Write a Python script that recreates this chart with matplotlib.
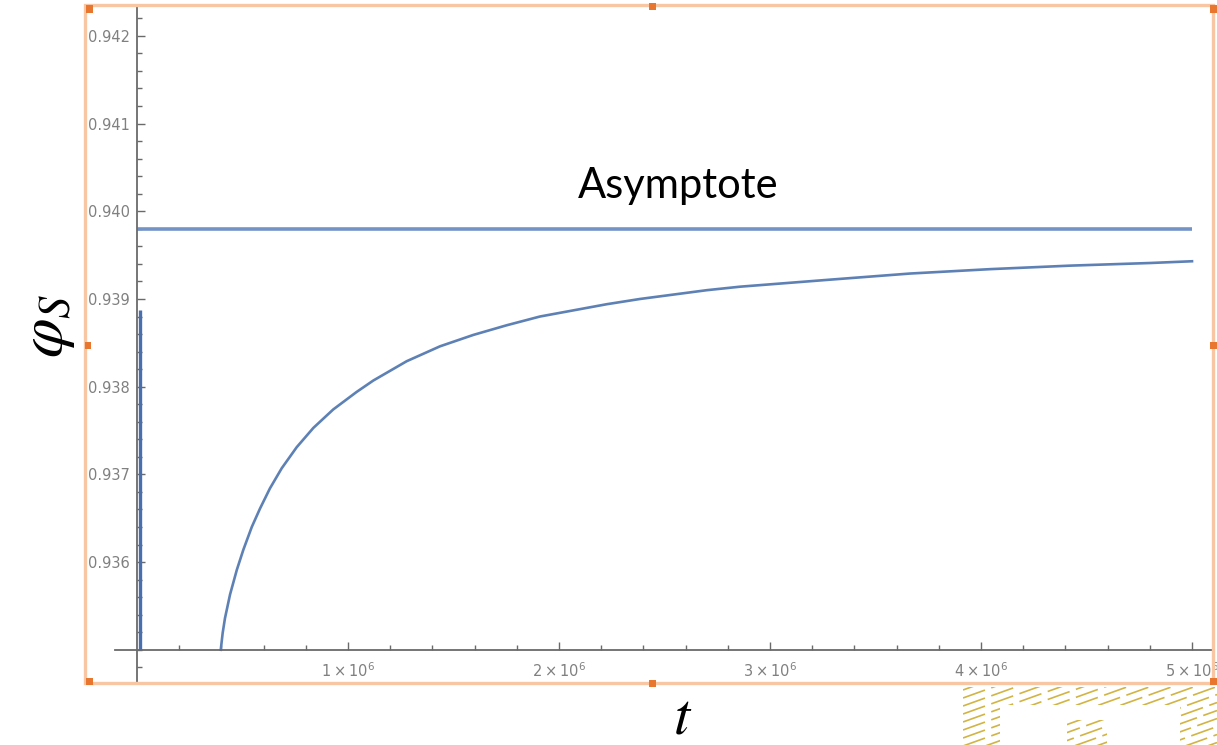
"""
Solid fraction phi_S relaxing towards its long-time asymptote.
"""

import matplotlib.pyplot as plt
import numpy as np
from matplotlib.lines import Line2D
from matplotlib.patches import Rectangle

OUT_FILE = "out.png"
W, H, DPI = 1217, 745, 100

# phi_S(t), t in units of 1e6
TIME = np.array([
    0.397, 0.406, 0.417, 0.441, 0.473, 0.504, 0.544, 0.583, 0.630, 0.686,
    0.757, 0.836, 0.930, 1.041, 1.120, 1.278, 1.436, 1.594, 1.752, 1.910,
    2.068, 2.226, 2.384, 2.542, 2.700, 2.858, 3.284, 3.664, 4.043, 4.422,
    4.801, 5.000,
]) * 1e6
PHI_S = np.array([
    0.93500, 0.93519, 0.93536, 0.93563, 0.93591, 0.93614, 0.93640, 0.93661, 0.93684, 0.93707,
    0.93731, 0.93753, 0.93774, 0.93794, 0.93807, 0.93829, 0.93846, 0.93859, 0.93870, 0.93880,
    0.93887, 0.93894, 0.93900, 0.93905, 0.93910, 0.93914, 0.93922, 0.93929, 0.93934, 0.93938,
    0.93941, 0.93943,
])
ASYMPTOTE = 0.9398
ASYMPTOTE_T = [0.0, 5.0e6]

# early-time branch right at the origin
SPIKE_T = [0.012e6, 0.012e6]
SPIKE_PHI = [0.9350, 0.93887]

Y_MAJOR = [0.936, 0.937, 0.938, 0.939, 0.940, 0.941, 0.942]
Y_LABELS = ["0.936", "0.937", "0.938", "0.939", "0.940", "0.941", "0.942"]
X_MAJOR = [1e6, 2e6, 3e6, 4e6, 5e6]
X_LABELS = [r"$1\times10^{6}$", r"$2\times10^{6}$", r"$3\times10^{6}$",
            r"$4\times10^{6}$", r"$5\times10^{6}$"]

LINE_BLUE = "#5e81b5"
AXIS_GREY = "#6a6a6a"
LABEL_GREY = "#808080"
FRAME_ORANGE = "#f9c6a3"
HANDLE_ORANGE = "#e8762e"
HATCH_GOLD = "#d2b444"


def fx(x):
    return x / W


def fy(y):
    return 1 - y / H


def fig_rect(fig, x0, y0, x1, y1, **kw):
    r = Rectangle((fx(x0), fy(y1)), fx(x1) - fx(x0), fy(y0) - fy(y1),
                  transform=fig.transFigure, **kw)
    fig.add_artist(r)
    return r


def draw_frame(fig):
    # selection box around the plot with its resize handles
    fig_rect(fig, 85, 5, 1213, 683, fill=False, ec=FRAME_ORANGE, lw=2.4, zorder=5)
    s = 7
    for x, y in [(89, 9), (652, 6), (1213, 9), (88, 345), (1213, 345),
                 (89, 681), (652, 683), (1213, 681)]:
        fig_rect(fig, x - s / 2, y - s / 2, x + s / 2, y + s / 2,
                 color=HANDLE_ORANGE, lw=0, zorder=6)


def draw_hatch(fig):
    # diagonal gold hatching with blank blocks cut out of it
    blocks = [(963, 687, 1217, 705), (963, 705, 1000, 745),
              (1067, 720, 1107, 745), (1180, 705, 1217, 745)]
    xs = np.array([963.0, 1217.0])
    for bx0, by0, bx1, by1 in blocks:
        clip = fig_rect(fig, bx0, by0, bx1, by1, fill=False, lw=0)
        for c in np.arange(690, 745 + 100, 8.0):
            ys = c - 0.36 * (xs - 963)
            ln = Line2D(fx(xs), fy(ys), transform=fig.transFigure, color=HATCH_GOLD,
                        lw=1.2, dashes=(14, 4), zorder=4)
            ln.set_clip_path(clip)
            fig.add_artist(ln)


def main():
    fig = plt.figure(figsize=(W / DPI, H / DPI), dpi=DPI)
    ax = fig.add_axes([fx(85), fy(683), fx(1213) - fx(85), fy(5) - fy(683)])

    ax.plot(ASYMPTOTE_T, [ASYMPTOTE, ASYMPTOTE], color="#7393c6", lw=2.6, solid_capstyle="butt")
    ax.plot(TIME, PHI_S, color=LINE_BLUE, lw=1.9)
    ax.plot(SPIKE_T, SPIKE_PHI, color="#4a6fae", lw=2.4, solid_capstyle="butt")

    ax.set_xlim(-0.2464e6, 5.0995e6)
    ax.set_ylim(0.934621, 0.942352)

    for side in ("top", "right"):
        ax.spines[side].set_visible(False)
    ax.spines["left"].set_position(("data", 0))
    ax.spines["bottom"].set_position(("data", 0.935))
    ax.spines["bottom"].set_bounds(-0.104e6, 5.0995e6)
    for side in ("left", "bottom"):
        ax.spines[side].set_color(AXIS_GREY)
        ax.spines[side].set_linewidth(1.3)

    ax.set_yticks(Y_MAJOR, Y_LABELS)
    ax.set_yticks(np.arange(0.9348, 0.94225, 0.0002), minor=True)
    ax.set_xticks(X_MAJOR, X_LABELS)
    ax.set_xticks(np.arange(0.2e6, 5.01e6, 0.2e6), minor=True)
    ax.tick_params(which="both", direction="in", color=AXIS_GREY, width=1.0,
                   labelcolor=LABEL_GREY)
    ax.tick_params(which="major", length=6)
    ax.tick_params(which="minor", length=3.5)
    ax.tick_params(axis="y", labelsize=10.5, pad=5)
    ax.tick_params(axis="x", labelsize=10.5, pad=8)

    ax.text(2.564e6, 0.94015, "Asymptote", ha="center", va="baseline",
            fontsize=30, family="Lato", color="black")

    fig.text(fx(46), fy(326), r"$\varphi_S$", rotation=90, ha="center", va="center",
             fontsize=46, math_fontfamily="stix")
    fig.text(fx(683), fy(717), r"$t$", ha="center", va="center",
             fontsize=42, math_fontfamily="stix")

    draw_frame(fig)
    draw_hatch(fig)

    fig.savefig(OUT_FILE, dpi=DPI, facecolor="white")
    plt.close(fig)


if __name__ == "__main__":
    main()
